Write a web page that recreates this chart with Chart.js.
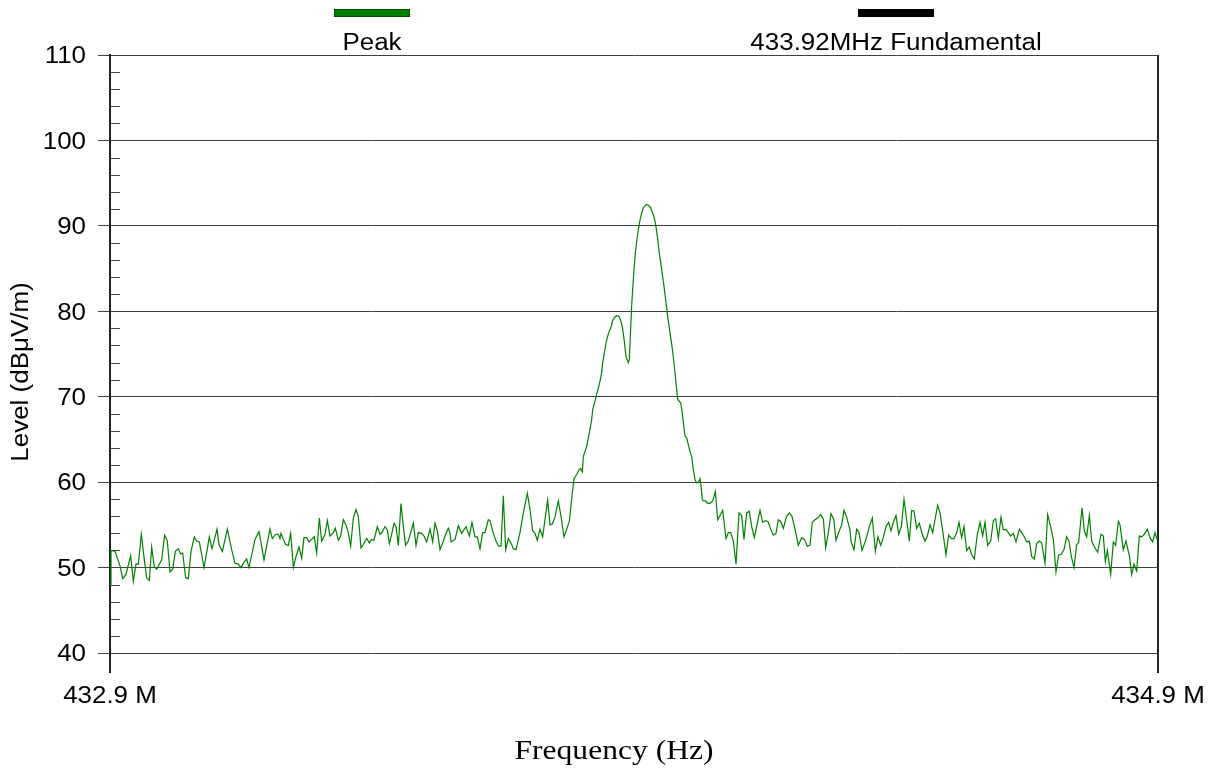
<!DOCTYPE html>
<html>
<head>
<meta charset="utf-8">
<script src="https://cdn.jsdelivr.net/npm/chart.js@4/dist/chart.umd.min.js"></script>
<style>
  html, body { margin: 0; padding: 0; background: #ffffff; }
  #wrap { position: relative; width: 1217px; height: 769px; }
</style>
</head>
<body>
<div id="wrap"><canvas id="c"></canvas></div>
<script>
// ---------------- data ----------------
const startMHz = 432.9;
const stopMHz = 434.9;
const xTickValues = [432.9, 434.9];
const xTickLabels = ['432.9 M', '434.9 M'];
const yTickValues = [40, 50, 60, 70, 80, 90, 100, 110];
const seriesLabels = ['Peak', '433.92MHz Fundamental'];
const seriesColors = ['#008000', '#000000'];
const xTitle = 'Frequency (Hz)';
const yTitle = 'Level (dB\u03bcV/m)';

// sweep points: offset from start frequency (MHz) and level (dBuV/m)
const lowBandOffsets = [0, 0.0019, 0.0095, 0.0191, 0.0242, 0.0305, 0.0394, 0.0445, 0.0496, 0.0541, 0.0598, 0.0655, 0.0700, 0.0751, 0.0795, 0.0846, 0.0891, 0.0986, 0.1043, 0.1094, 0.1145, 0.1196, 0.1247, 0.1304, 0.1349, 0.1387, 0.1444, 0.1495, 0.1546, 0.1609, 0.1654, 0.1705, 0.1794, 0.1896, 0.1947, 0.2042, 0.2080, 0.2144, 0.2239, 0.2322, 0.2385, 0.2449, 0.2500, 0.2564, 0.2608, 0.2653, 0.2767, 0.2844, 0.2939, 0.3053, 0.3098, 0.3162, 0.3212, 0.3244,
  0.3263, 0.3308, 0.3352, 0.3403, 0.3448, 0.3499, 0.3550, 0.3607, 0.3658, 0.3702, 0.3753, 0.3798, 0.3849, 0.3899, 0.3944, 0.3995, 0.4039, 0.4103, 0.4148, 0.4198, 0.4262, 0.4300, 0.4358, 0.4402, 0.4453, 0.4504, 0.4548, 0.4593, 0.4644, 0.4695, 0.4739, 0.4790, 0.4835, 0.4898, 0.4949, 0.4994, 0.5038, 0.5102, 0.5153, 0.5191, 0.5248, 0.5293, 0.5331, 0.5382, 0.5420, 0.5458, 0.5503, 0.5553, 0.5598, 0.5642, 0.5693, 0.5738, 0.5789, 0.5840, 0.5884, 0.5948, 0.5992, 0.6043, 0.6107, 0.6158, 0.6202, 0.6247, 0.6298, 0.6349, 0.6406, 0.6456, 0.6489,
  0.6508, 0.6584, 0.6648, 0.6711, 0.6794, 0.6858, 0.6908, 0.6966, 0.7010, 0.7061, 0.7112, 0.7156, 0.7220, 0.7252, 0.7316, 0.7366, 0.7417, 0.7462, 0.7506, 0.7551, 0.7602, 0.7665, 0.7697, 0.7748, 0.7824, 0.7888, 0.7964, 0.8015, 0.8066, 0.8111, 0.8155, 0.8206, 0.8257, 0.8352, 0.8397, 0.8441, 0.8492, 0.8556, 0.8607, 0.8664, 0.8715, 0.8766, 0.8817];
const lowBandLevels = [48.0, 52.0, 51.9, 50.2, 48.7, 49.2, 51.4, 48.4, 50.4, 50.4, 53.9, 50.9, 48.8, 48.5, 52.4, 50.1, 49.8, 50.9, 53.8, 53.1, 49.5, 49.8, 51.9, 52.2, 51.6, 51.7, 48.8, 48.7, 51.9, 53.6, 53.1, 53.0, 50.0, 53.6, 52.2, 54.5, 52.7, 51.9, 54.5, 52.1, 50.5, 50.4, 50.0, 50.7, 51.0, 50.0, 53.3, 54.2, 50.9, 54.5, 53.4, 53.9, 53.9, 53.4,
  54.0, 53.3, 52.7, 52.6, 54.0, 50.0, 51.3, 52.4, 51.1, 53.5, 53.5, 53.0, 53.3, 53.6, 51.7, 55.8, 53.1, 53.9, 55.5, 53.7, 54.1, 54.6, 53.2, 53.7, 55.6, 55.0, 54.1, 52.5, 55.8, 56.8, 56.0, 52.3, 52.7, 53.4, 52.9, 53.3, 53.2, 54.8, 53.9, 54.1, 54.8, 54.4, 52.8, 54.1, 55.2, 54.8, 52.6, 57.5, 54.8, 52.6, 53.1, 54.1, 55.2, 52.6, 54.1, 54.0, 53.7, 53.0, 54.5, 53.0, 55.2, 54.3, 52.1, 52.9, 53.9, 54.6, 54.1,
  53.0, 53.3, 54.9, 54.0, 54.8, 53.7, 55.3, 53.6, 53.6, 52.2, 54.1, 54.1, 55.6, 55.5, 54.0, 53.1, 52.5, 52.5, 58.4, 52.1, 53.4, 52.7, 52.2, 52.1, 54.1, 56.4, 58.7, 56.8, 54.3, 54.0, 53.2, 54.5, 53.6, 57.9, 55.0, 55.1, 55.9, 57.8, 56.0, 53.6, 54.5, 55.4, 58.4];

const carrierOffsets = [0.8855, 0.8906, 0.8957, 0.8982, 0.9014, 0.9033, 0.9065, 0.9097, 0.9129, 0.9160, 0.9192, 0.9211, 0.9256, 0.9288, 0.9319, 0.9351, 0.9383, 0.9402, 0.9434, 0.9466, 0.9498, 0.9529, 0.9561, 0.9586, 0.9618, 0.9669, 0.9714, 0.9752, 0.9784, 0.9815, 0.9847, 0.9866, 0.9892, 0.9911, 0.9936, 0.9955, 0.9975, 1.0000, 1.0025, 1.0051, 1.0083, 1.0115, 1.0146, 1.0178, 1.0229, 1.0274, 1.0318, 1.0369, 1.0407, 1.0445, 1.0483, 1.0528, 1.0573, 1.0611, 1.0643, 1.0687, 1.0725, 1.0763, 1.0802, 1.0833, 1.0859, 1.0891, 1.0916, 1.0941, 1.0973, 1.1005, 1.1036, 1.1069, 1.1100, 1.1132, 1.1164, 1.1196, 1.1228, 1.1260, 1.1279, 1.1304, 1.1323, 1.1368, 1.1387, 1.1431, 1.1463, 1.1501, 1.1527, 1.1552];
const carrierLevels = [60.4, 60.9, 61.5, 61.6, 61.2, 63.0, 63.6, 64.2, 65.2, 66.2, 67.3, 68.5, 69.5, 70.3, 71.0, 71.8, 72.8, 74.0, 75.1, 76.3, 77.1, 77.7, 78.1, 78.8, 79.2, 79.5, 79.4, 78.8, 77.9, 76.5, 74.7, 74.4, 74.0, 74.4, 77.9, 80.6, 82.6, 84.9, 86.8, 88.2, 89.6, 90.7, 91.5, 92.1, 92.5, 92.4, 92.1, 91.3, 90.4, 88.8, 86.8, 84.9, 82.9, 81.0, 79.4, 77.5, 75.9, 74.0, 71.6, 69.7, 69.5, 69.3, 68.3, 67.1, 65.4, 65.2, 64.4, 63.6, 63.0, 61.5, 60.3, 59.9, 60.0, 60.4, 59.5, 58.0, 57.8, 57.8, 57.6, 57.5, 57.6, 57.8, 58.3, 58.9];

const highBandOffsets = [1.1597, 1.1641, 1.1692, 1.1756, 1.1800, 1.1845, 1.1896, 1.1947, 1.2004, 1.2055, 1.2099, 1.2150, 1.2201, 1.2246, 1.2296, 1.2354, 1.2405, 1.2455, 1.2506, 1.2557, 1.2608, 1.2659, 1.2710, 1.2754, 1.2799, 1.2850, 1.2913, 1.2964, 1.3015, 1.3073, 1.3136, 1.3200, 1.3251, 1.3308, 1.3359, 1.3403, 1.3454, 1.3505, 1.3562, 1.3613, 1.3658, 1.3709, 1.3760, 1.3811, 1.3855, 1.3906, 1.3963, 1.4008, 1.4059, 1.4122,
  1.4141, 1.4198, 1.4249, 1.4294, 1.4351, 1.4428, 1.4491, 1.4548, 1.4606, 1.4656, 1.4707, 1.4758, 1.4809, 1.4860, 1.4905, 1.4949, 1.5000, 1.5051, 1.5102, 1.5153, 1.5204, 1.5254, 1.5299, 1.5344, 1.5394, 1.5445, 1.5490, 1.5553, 1.5598, 1.5649, 1.5700, 1.5744, 1.5795, 1.5840, 1.5891, 1.5954, 1.6005, 1.6056, 1.6107, 1.6158, 1.6202, 1.6253, 1.6298, 1.6349, 1.6399, 1.6444, 1.6495, 1.6552, 1.6603, 1.6654, 1.6698, 1.6749, 1.6807, 1.6858, 1.6902, 1.6953,
  1.7004, 1.7048, 1.7099, 1.7144, 1.7188, 1.7239, 1.7290, 1.7354, 1.7398, 1.7449, 1.7494, 1.7545, 1.7589, 1.7640, 1.7684, 1.7735, 1.7780, 1.7844, 1.7894, 1.7952, 1.8003, 1.8053, 1.8104, 1.8149, 1.8206, 1.8257, 1.8302, 1.8346, 1.8397, 1.8448, 1.8486, 1.8550, 1.8594, 1.8639, 1.8690, 1.8734, 1.8798, 1.8849, 1.8912, 1.8957, 1.8995, 1.9033, 1.9097, 1.9148, 1.9192, 1.9243, 1.9275, 1.9338, 1.9389, 1.9453, 1.9498, 1.9542, 1.9593, 1.9644, 1.9688, 1.9739, 1.9796, 1.9847, 1.9898, 1.9943, 1.9975, 2.0];
const highBandLevels = [55.6, 56.1, 56.7, 53.4, 54.1, 54.1, 53.1, 50.4, 56.4, 56.1, 53.3, 56.4, 56.6, 54.8, 53.5, 55.2, 56.7, 55.3, 55.5, 55.4, 54.5, 53.8, 54.0, 55.6, 55.4, 54.6, 56.0, 56.4, 56.0, 54.5, 52.6, 53.5, 53.3, 52.5, 52.6, 55.3, 55.6, 55.8, 56.2, 55.7, 52.3, 54.1, 56.3, 55.7, 53.2, 54.1, 55.0, 56.7, 55.9, 54.4,
  53.1, 52.1, 54.5, 54.1, 52.0, 53.3, 54.8, 55.8, 51.9, 53.6, 52.6, 53.5, 54.8, 55.3, 54.3, 55.3, 56.1, 53.9, 54.8, 58.0, 55.6, 53.1, 56.7, 56.6, 54.6, 55.2, 54.1, 53.1, 53.7, 55.0, 54.1, 55.6, 57.3, 56.4, 54.3, 51.5, 53.8, 53.4, 53.4, 54.1, 55.3, 53.5, 54.8, 52.0, 52.4, 51.5, 51.0, 53.9, 55.3, 53.7, 55.3, 52.6, 53.1, 55.5, 55.7, 53.4,
  55.9, 54.4, 54.5, 54.1, 53.7, 54.0, 53.0, 54.5, 54.1, 53.6, 53.0, 53.1, 51.3, 51.0, 52.8, 53.1, 52.9, 50.5, 56.2, 54.8, 53.3, 49.5, 51.5, 51.5, 52.1, 53.6, 53.1, 51.3, 50.0, 52.7, 52.9, 57.0, 54.3, 53.6, 56.1, 53.1, 52.3, 51.8, 53.9, 53.7, 50.7, 52.0, 49.2, 53.0, 52.6, 55.4, 55.0, 52.1, 53.1, 51.4, 49.2, 50.4, 49.6, 53.7, 53.6, 53.9, 54.5, 53.5, 53.0, 54.1, 53.4, 53.6];

// ---------------- build ----------------
function pairUp(offs, lv) {
  const n = Math.min(offs.length, lv.length);
  const out = [];
  for (let i = 0; i < n; i++) out.push({ x: +(startMHz + offs[i]).toFixed(5), y: lv[i] });
  return out;
}
const peakData = [].concat(
  pairUp(lowBandOffsets, lowBandLevels),
  pairUp(carrierOffsets, carrierLevels),
  pairUp(highBandOffsets, highBandLevels)
);

const FONT_SANS = '"Liberation Sans", Arial, Helvetica, sans-serif';
const FONT_SERIF = '"Liberation Serif", "Times New Roman", serif';
const STRETCH = 1.128;

function drawText(ctx, txt, x, y, opts) {
  ctx.save();
  ctx.translate(x, y);
  if (opts.rotate) ctx.rotate(opts.rotate);
  ctx.scale(opts.stretch || STRETCH, 1);
  ctx.font = opts.font;
  ctx.fillStyle = '#000000';
  ctx.textAlign = opts.align || 'center';
  ctx.textBaseline = 'alphabetic';
  ctx.fillText(txt, 0, 0);
  ctx.restore();
}

const decorPlugin = {
  id: 'decor',
  beforeDatasetsDraw(chart) {
    const ctx = chart.ctx;
    const ys = chart.scales.y;
    const area = chart.chartArea;
    ctx.save();
    ctx.strokeStyle = '#444444';
    ctx.lineWidth = 1;
    ctx.beginPath();
    for (let v = ys.min + 2; v < ys.max; v += 2) {
      if (v % 10 === 0) continue;
      const py = Math.round(ys.getPixelForValue(v)) + 0.5;
      ctx.moveTo(area.left, py);
      ctx.lineTo(area.left + 10, py);
    }
    ctx.stroke();
    ctx.restore();
  },
  afterDraw(chart) {
    const ctx = chart.ctx;
    const ys = chart.scales.y;
    const xs = chart.scales.x;
    const area = chart.chartArea;
    const f23 = '23px ' + FONT_SANS;
    // y tick labels
    yTickValues.forEach(v => {
      drawText(ctx, String(v), area.left - 24, ys.getPixelForValue(v) + 8.3, { font: f23, align: 'right' });
    });
    // x tick labels
    xTickValues.forEach((v, i) => {
      drawText(ctx, xTickLabels[i], xs.getPixelForValue(v), 703, { font: f23, align: 'center' });
    });
    // axis titles
    drawText(ctx, xTitle, 614, 759, { font: '28px ' + FONT_SERIF, align: 'center' });
    drawText(ctx, yTitle, 28, 372, { font: f23, align: 'center', rotate: -Math.PI / 2 });
    // legend (box above label)
    const n = chart.data.datasets.length;
    chart.data.datasets.forEach((ds, i) => {
      const cx = area.left + (i + 0.5) * area.width / n;
      ctx.save();
      ctx.fillStyle = ds.borderColor;
      ctx.fillRect(cx - 38, 9, 76, 8);
      ctx.strokeStyle = i === 0 ? '#005200' : '#000000';
      ctx.lineWidth = 1;
      ctx.strokeRect(cx - 37.5, 9.5, 75, 7);
      ctx.restore();
      drawText(ctx, ds.label, cx, 50, { font: f23, align: 'center' });
    });
  }
};

new Chart(document.getElementById('c'), {
  type: 'line',
  data: {
    datasets: [
      { label: seriesLabels[0], data: peakData, borderColor: seriesColors[0], backgroundColor: seriesColors[0], borderWidth: 1.2, pointRadius: 0, tension: 0, fill: false },
      { label: seriesLabels[1], data: [], borderColor: seriesColors[1], backgroundColor: seriesColors[1], borderWidth: 1.2, pointRadius: 0 }
    ]
  },
  options: {
    responsive: true,
    maintainAspectRatio: false,
    animation: false,
    events: [],
    layout: { padding: { top: 55, right: 59, bottom: 0, left: 0 } },
    plugins: { legend: { display: false }, tooltip: { enabled: false }, title: { display: false } },
    scales: {
      x: {
        type: 'linear',
        min: startMHz,
        max: stopMHz,
        afterBuildTicks: s => { s.ticks = xTickValues.map(v => ({ value: v })); },
        afterFit: s => { s.height = 116; },
        ticks: { display: false },
        grid: { display: true, color: '#222222', lineWidth: 2, tickLength: 20, drawTicks: true, drawOnChartArea: true },
        border: { display: false }
      },
      y: {
        type: 'linear',
        min: 40,
        max: 110,
        afterBuildTicks: s => { s.ticks = yTickValues.map(v => ({ value: v })); },
        afterFit: s => { s.width = 110; },
        ticks: { display: false },
        grid: { display: true, color: '#404040', lineWidth: 1, tickLength: 12, drawTicks: true, drawOnChartArea: true },
        border: { display: true, color: '#222222', width: 2 }
      }
    }
  },
  plugins: [decorPlugin]
});
</script>
</body>
</html>
